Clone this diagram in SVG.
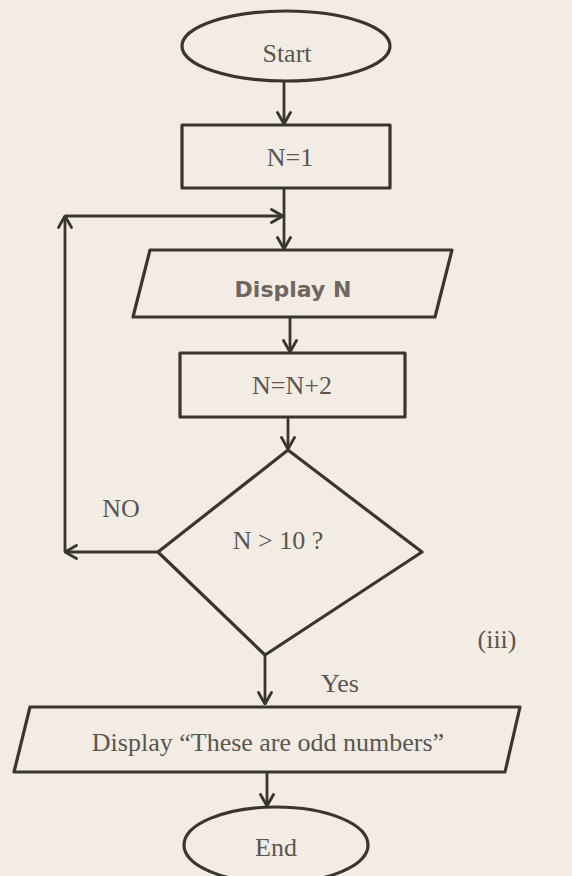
<svg xmlns="http://www.w3.org/2000/svg" width="572" height="876" viewBox="0 0 572 876">
<defs>
<marker id="arr" viewBox="0 0 14 16" refX="13" refY="8" markerWidth="14" markerHeight="16" markerUnits="userSpaceOnUse" orient="auto">
<path d="M1.5,1.5 L13,8 L1.5,14.5" fill="none" stroke="#3a3531" stroke-width="2.8" stroke-linecap="round" stroke-linejoin="round"/>
</marker>
<style>
.shape{fill:none;stroke:#3a3531;stroke-width:3.2;stroke-linejoin:round}
.conn{fill:none;stroke:#3a3531;stroke-width:2.8}
.t{font-family:"Liberation Serif","Times New Roman",serif;fill:#5c5650;text-anchor:middle;font-size:26px}
.s{font-family:"DejaVu Sans","Liberation Sans",sans-serif;font-weight:bold;fill:#6e665f;text-anchor:middle;font-size:22px}
</style>
</defs>
<rect width="572" height="876" fill="#f2ece4"/>
<g id="connectors">
<line class="conn" x1="284" y1="81" x2="284" y2="124" marker-end="url(#arr)"/>
<line class="conn" x1="284" y1="188" x2="284" y2="249" marker-end="url(#arr)"/>
<line class="conn" x1="290" y1="317" x2="290" y2="352" marker-end="url(#arr)"/>
<line class="conn" x1="288" y1="417" x2="288" y2="449" marker-end="url(#arr)"/>
<polyline class="conn" points="158,552 65,552" marker-end="url(#arr)"/>
<polyline class="conn" points="65,552 65,216" marker-end="url(#arr)"/>
<polyline class="conn" points="65,216 283,216" marker-end="url(#arr)"/>
<line class="conn" x1="265" y1="656" x2="265" y2="704" marker-end="url(#arr)"/>
<line class="conn" x1="267" y1="772" x2="267" y2="806" marker-end="url(#arr)"/>
<text class="t" x="121" y="517" font-size="25">NO</text>
<text class="t" x="340" y="692">Yes</text>
</g>
<g id="start">
<ellipse class="shape" cx="286" cy="46" rx="104" ry="35"/>
<text class="t" x="287" y="62">Start</text>
</g>
<g id="init">
<rect class="shape" x="182" y="125" width="208" height="63"/>
<text class="t" x="290" y="166">N=1</text>
</g>
<g id="displayN">
<polygon class="shape" points="150,250 452,250 435,317 133,317"/>
<text class="s" x="293" y="297">Display N</text>
</g>
<g id="increment">
<rect class="shape" x="180" y="353" width="225" height="64"/>
<text class="t" x="292" y="394" font-size="27">N=N+2</text>
</g>
<g id="decision">
<polygon class="shape" points="288,450 422,552 265,655 158,552"/>
<text class="t" x="278" y="549" font-size="27">N &gt; 10 ?</text>
</g>
<g id="displayMsg">
<polygon class="shape" points="30,707 520,707 505,772 14,772"/>
<text class="t" x="268" y="751" font-size="27">Display “These are odd numbers”</text>
</g>
<g id="end">
<ellipse class="shape" cx="276" cy="845" rx="92" ry="38"/>
<text class="t" x="276" y="856">End</text>
</g>
<text class="t" x="497" y="648" font-size="15">(iii)</text>
</svg>
